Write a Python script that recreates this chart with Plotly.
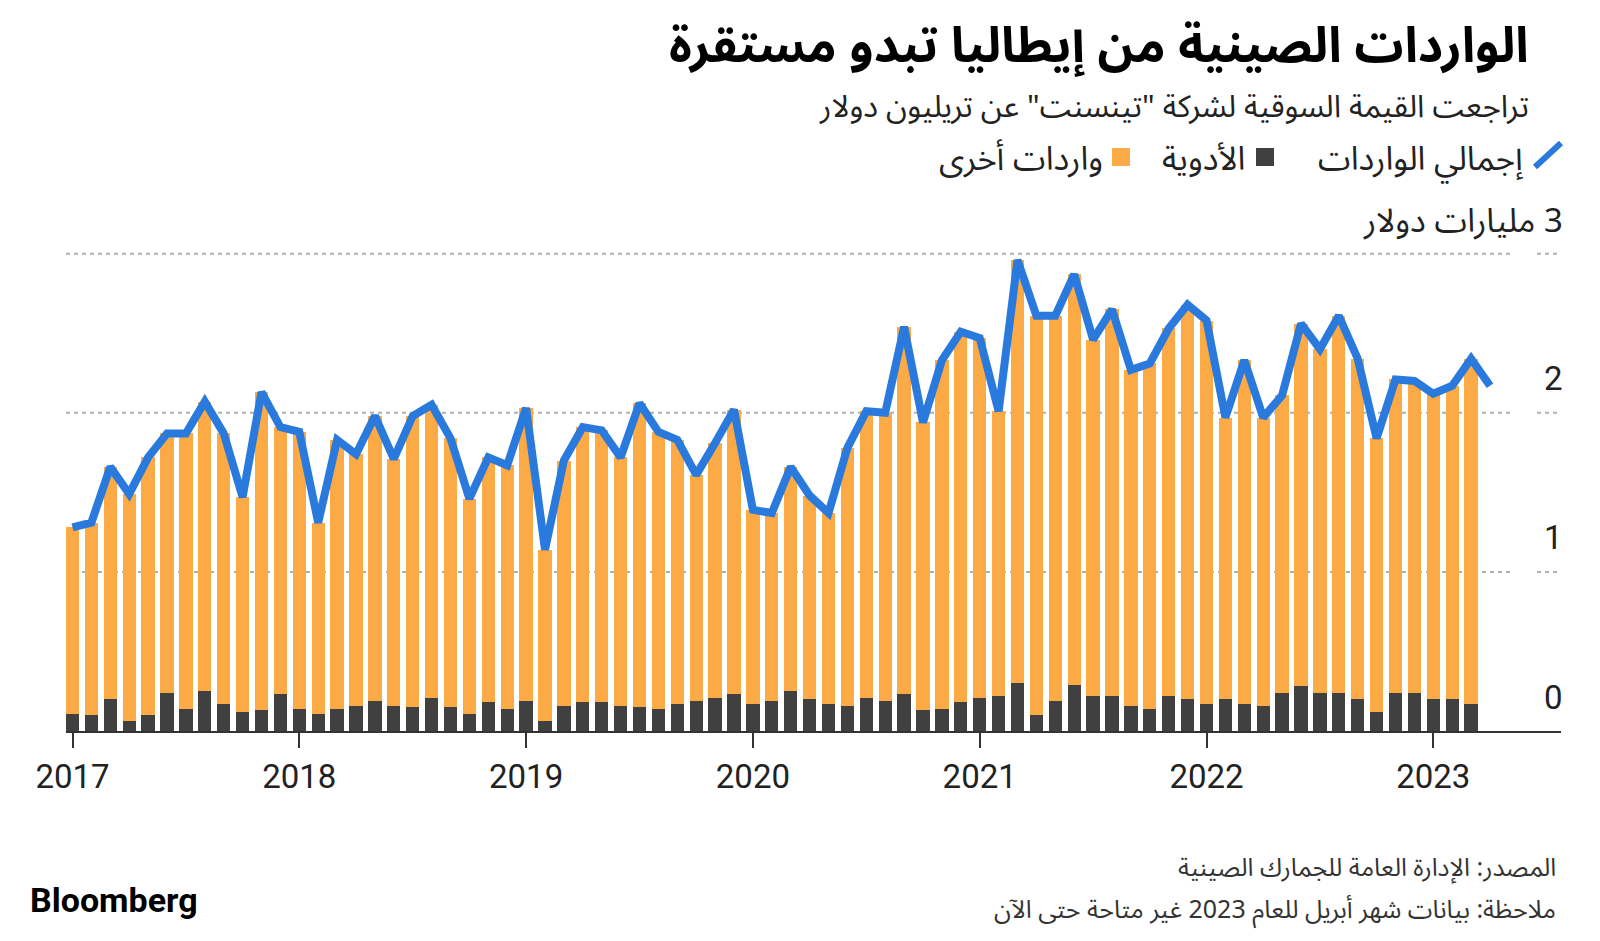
import plotly.graph_objects as go
import pandas as pd

# ---------------- data ----------------
months = [d.strftime("%Y-%m") for d in pd.date_range("2017-01-01", "2023-04-01", freq="MS")]

total_imports = [
    1.28, 1.31, 1.66, 1.49, 1.72, 1.87, 1.87, 2.07, 1.87, 1.47, 2.13, 1.91,
    1.88, 1.31, 1.83, 1.74, 1.98, 1.71, 1.98, 2.05, 1.84, 1.46, 1.72, 1.67,
    2.03, 1.14, 1.70, 1.91, 1.89, 1.72, 2.06, 1.88, 1.83, 1.61, 1.81, 2.02,
    1.39, 1.37, 1.66, 1.48, 1.37, 1.78, 2.01, 2.00, 2.54, 1.94, 2.33, 2.51,
    2.47, 2.01, 2.96, 2.61, 2.61, 2.87, 2.46, 2.65, 2.27, 2.31, 2.53, 2.68,
    2.58, 1.97, 2.33, 1.97, 2.11, 2.56, 2.40, 2.61, 2.34, 1.84, 2.21, 2.20,
    2.12, 2.17, 2.34, 2.17,
]

medicines = [
    0.11, 0.10, 0.20, 0.06, 0.10, 0.24, 0.14, 0.25, 0.17, 0.12, 0.13, 0.23,
    0.14, 0.11, 0.14, 0.16, 0.19, 0.16, 0.15, 0.21, 0.15, 0.11, 0.18, 0.14,
    0.19, 0.06, 0.16, 0.18, 0.18, 0.16, 0.15, 0.14, 0.17, 0.19, 0.21, 0.23,
    0.17, 0.19, 0.25, 0.20, 0.17, 0.16, 0.21, 0.19, 0.23, 0.13, 0.14, 0.18,
    0.21, 0.22, 0.30, 0.10, 0.19, 0.29, 0.22, 0.22, 0.16, 0.14, 0.22, 0.20,
    0.17, 0.20, 0.17, 0.16, 0.24, 0.28, 0.24, 0.24, 0.20, 0.12, 0.24, 0.24,
    0.20, 0.20, 0.17,
]

# other imports = remainder of total for months with a breakdown (Jan 2017 - Mar 2023)
bar_months = months[:len(medicines)]
other_imports = [round(t - m, 2) for t, m in zip(total_imports, medicines)]

year_ticks = ["2017-01", "2018-01", "2019-01", "2020-01", "2021-01", "2022-01", "2023-01"]
year_labels = ["2017", "2018", "2019", "2020", "2021", "2022", "2023"]

y_values = [0, 1, 2, 3]
y_labels = ["0", "1", "2", "\u200f3 مليارات دولار"]
grid_values = [1, 2, 3]

title = "الواردات الصينية من إيطاليا تبدو مستقرة"
subtitle = "تراجعت القيمة السوقية لشركة \"تينسنت\" عن تريليون دولار"
legend_names = ["إجمالي الواردات", "الأدوية", "واردات أخرى"]
source = "المصدر: الإدارة العامة للجمارك الصينية"
note = "ملاحظة: بيانات شهر أبريل للعام 2023 غير متاحة حتى الآن"

# ---------------- style ----------------
W, H = 1600, 941
L, R, T, B = 66, 39, 231, 210
PW, PH = W - L - R, H - T - B
ORANGE = "#FBAA45"
DARK = "#404040"
BLUE = "#2A79DD"
GRID = "#b0b0b0"
AR = "Noto Sans Arabic, DejaVu Sans, sans-serif"
NUM = "Liberation Sans Narrow, Roboto, sans-serif"


def px(x):
    return (x - L) / PW


def py(y):
    return (T + PH - y) / PH


fig = go.Figure()
fig.add_trace(go.Bar(x=bar_months, y=medicines, name=legend_names[1],
                     marker=dict(color=DARK, line=dict(width=0))))
fig.add_trace(go.Bar(x=bar_months, y=other_imports, name=legend_names[2],
                     marker=dict(color=ORANGE, line=dict(width=0))))
fig.add_trace(go.Scatter(x=months, y=total_imports, name=legend_names[0], mode="lines",
                         line=dict(color=BLUE, width=8)))

step = PW / 79.1
x0 = -(72.5 - L) / step
fig.update_layout(
    width=W, height=H,
    margin=dict(l=L, r=R, t=T, b=B),
    paper_bgcolor="white", plot_bgcolor="white",
    barmode="stack", bargap=0.3,
    showlegend=False,
    xaxis=dict(type="category", categoryorder="array", categoryarray=months,
               range=[x0, x0 + 79.1],
               tickmode="array", tickvals=year_ticks, ticktext=year_labels,
               ticks="outside", ticklen=15, tickwidth=1.5, tickcolor="#333",
               showline=True, linecolor="#333", linewidth=2,
               showgrid=False, zeroline=False,
               tickfont=dict(family=NUM, size=33, color="#222")),
    yaxis=dict(range=[0, PH / 159.1], showticklabels=False, ticks="",
               showgrid=False, zeroline=False, showline=False),
)

annotations = []
for v, lab in zip(y_values, y_labels):
    annotations.append(dict(x=1.0, xref="paper", y=v, yref="y", text=lab,
                            showarrow=False, xanchor="right", yanchor="middle",
                            yshift=34 if v < 3 else 32, xshift=4,
                            font=dict(family=NUM if v < 3 else AR, size=33, color="#222")))

annotations.append(dict(x=px(1531), y=py(47), xref="paper", yref="paper", text="<b>" + title + "</b>",
                        showarrow=False, xanchor="right", yanchor="middle",
                        font=dict(family=AR, size=49, color="#000")))
annotations.append(dict(x=px(1531), y=py(107), xref="paper", yref="paper", text=subtitle,
                        showarrow=False, xanchor="right", yanchor="middle",
                        font=dict(family=AR, size=31, color="#222")))
leg_right = [1526, 1247, 1105]
for name, xr in zip(legend_names, leg_right):
    annotations.append(dict(x=px(xr), y=py(159), xref="paper", yref="paper", text=name,
                            showarrow=False, xanchor="right", yanchor="middle",
                            font=dict(family=AR, size=33, color="#222")))
annotations.append(dict(x=px(1558), y=py(868), xref="paper", yref="paper", text=source,
                        showarrow=False, xanchor="right", yanchor="middle",
                        font=dict(family=AR, size=25, color="#333")))
annotations.append(dict(x=px(1558), y=py(910), xref="paper", yref="paper", text=note,
                        showarrow=False, xanchor="right", yanchor="middle",
                        font=dict(family=AR, size=25, color="#333")))
annotations.append(dict(x=px(28), y=py(900), xref="paper", yref="paper", text="<b>Bloomberg</b>",
                        showarrow=False, xanchor="left", yanchor="middle",
                        font=dict(family="Roboto, sans-serif", size=34, color="#000")))

shapes = [
    dict(type="line", xref="paper", yref="paper", x0=px(1535), y0=py(167), x1=px(1561), y1=py(143),
         line=dict(color=BLUE, width=6)),
    dict(type="rect", xref="paper", yref="paper", x0=px(1256), y0=py(166), x1=px(1274), y1=py(148),
         fillcolor=DARK, line=dict(width=0)),
    dict(type="rect", xref="paper", yref="paper", x0=px(1112), y0=py(166), x1=px(1130), y1=py(148),
         fillcolor=ORANGE, line=dict(width=0)),
]
for g in grid_values:
    for a, b in [(0, px(1513)), (px(1537), 1)]:
        shapes.append(dict(type="line", xref="paper", yref="y", x0=a, x1=b, y0=g, y1=g,
                           layer="below", line=dict(color=GRID, width=2, dash="4px,4px")))

fig.update_layout(annotations=annotations, shapes=shapes)
fig.write_html("out.html", config={"displayModeBar": False},
               post_script="document.body.style.margin='0';")
